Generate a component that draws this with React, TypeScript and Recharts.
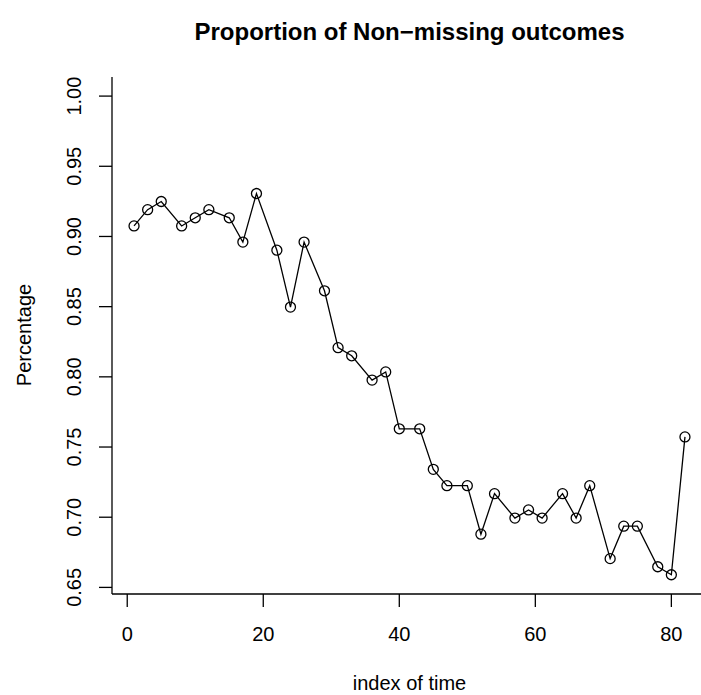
import { LineChart, Line, XAxis, YAxis } from 'recharts'

// time index of each observation
const timeIndex = [
  1, 3, 5, 8, 10, 12, 15, 17, 19, 22, 24, 26, 29, 31, 33, 36, 38, 40,
  43, 45, 47, 50, 52, 54, 57, 59, 61, 64, 66, 68, 71, 73, 75, 78, 80, 82,
]

// proportion of non-missing outcomes at each time
const proportion = [
  0.9075, 0.9191, 0.9249, 0.9075, 0.9133, 0.9191, 0.9133, 0.896, 0.9306,
  0.8902, 0.8497, 0.896, 0.8613, 0.8208, 0.815, 0.7977, 0.8035, 0.763,
  0.763, 0.7341, 0.7225, 0.7225, 0.6879, 0.7168, 0.6994, 0.7052, 0.6994,
  0.7168, 0.6994, 0.7225, 0.6705, 0.6936, 0.6936, 0.6647, 0.659, 0.7572,
]

const xTicks = [0, 20, 40, 60, 80]
const yTicks = [0.65, 0.7, 0.75, 0.8, 0.85, 0.9, 0.95, 1.0]

const data = timeIndex.map((t, i) => ({ t, p: proportion[i] }))

const FONT = '"Liberation Sans", Arial, Helvetica, sans-serif'

const XTick = ({ x, y, payload }: any) => (
  <text x={x} y={y} textAnchor="middle" dominantBaseline="central" fontSize={20} fill="#000" fontFamily={FONT}>
    {payload.value}
  </text>
)

const YTick = ({ x, y, payload }: any) => (
  <text
    x={x}
    y={y}
    transform={`rotate(-90 ${x} ${y})`}
    textAnchor="middle"
    dominantBaseline="central"
    fontSize={20}
    fill="#000"
    fontFamily={FONT}
  >
    {Number(payload.value).toFixed(2)}
  </text>
)

export default function App() {
  return (
    <div style={{ position: 'absolute', left: 0, top: 0, width: 701, height: 695, overflow: 'hidden', background: '#fff', fontFamily: FONT }}>
      <div style={{ position: 'absolute', left: 0, width: 819, top: 18, textAlign: 'center', fontSize: 24, fontWeight: 'bold', lineHeight: '28px' }}>
        Proportion of Non−missing outcomes
      </div>
      <div style={{ position: 'absolute', left: 0, width: 819, top: 671, textAlign: 'center', fontSize: 20, lineHeight: '24px' }}>
        index of time
      </div>
      <div
        style={{
          position: 'absolute',
          left: 24,
          top: 335,
          fontSize: 20,
          lineHeight: '24px',
          transform: 'translate(-50%, -50%) rotate(-90deg)',
          whiteSpace: 'nowrap',
        }}
      >
        Percentage
      </div>
      <LineChart width={708} height={695} data={data} margin={{ top: 77, right: 1, bottom: 0, left: 0 }}>
        <XAxis
          dataKey="t"
          type="number"
          domain={[-2.24, 85.24]}
          ticks={xTicks}
          allowDataOverflow
          height={101}
          tickSize={13}
          tickMargin={27}
          tick={<XTick />}
          axisLine={{ stroke: '#000', strokeWidth: 1.3 }}
          tickLine={{ stroke: '#000', strokeWidth: 1.3 }}
        />
        <XAxis
          xAxisId="top"
          dataKey="t"
          type="number"
          domain={[-2.24, 85.24]}
          orientation="top"
          height={0}
          tick={false}
          tickLine={false}
          axisLine={{ stroke: '#000', strokeWidth: 1.3 }}
        />
        <YAxis
          type="number"
          domain={[0.6453, 1.0136]}
          ticks={yTicks}
          allowDataOverflow
          width={112}
          tickSize={13}
          tickMargin={25}
          tick={<YTick />}
          axisLine={{ stroke: '#000', strokeWidth: 1.3 }}
          tickLine={{ stroke: '#000', strokeWidth: 1.3 }}
        />
        <Line
          dataKey="p"
          type="linear"
          stroke="#000"
          strokeWidth={1.3}
          dot={{ r: 5, stroke: '#000', strokeWidth: 1.3, fill: 'none' }}
          activeDot={false}
          isAnimationActive={false}
        />
      </LineChart>
    </div>
  )
}
